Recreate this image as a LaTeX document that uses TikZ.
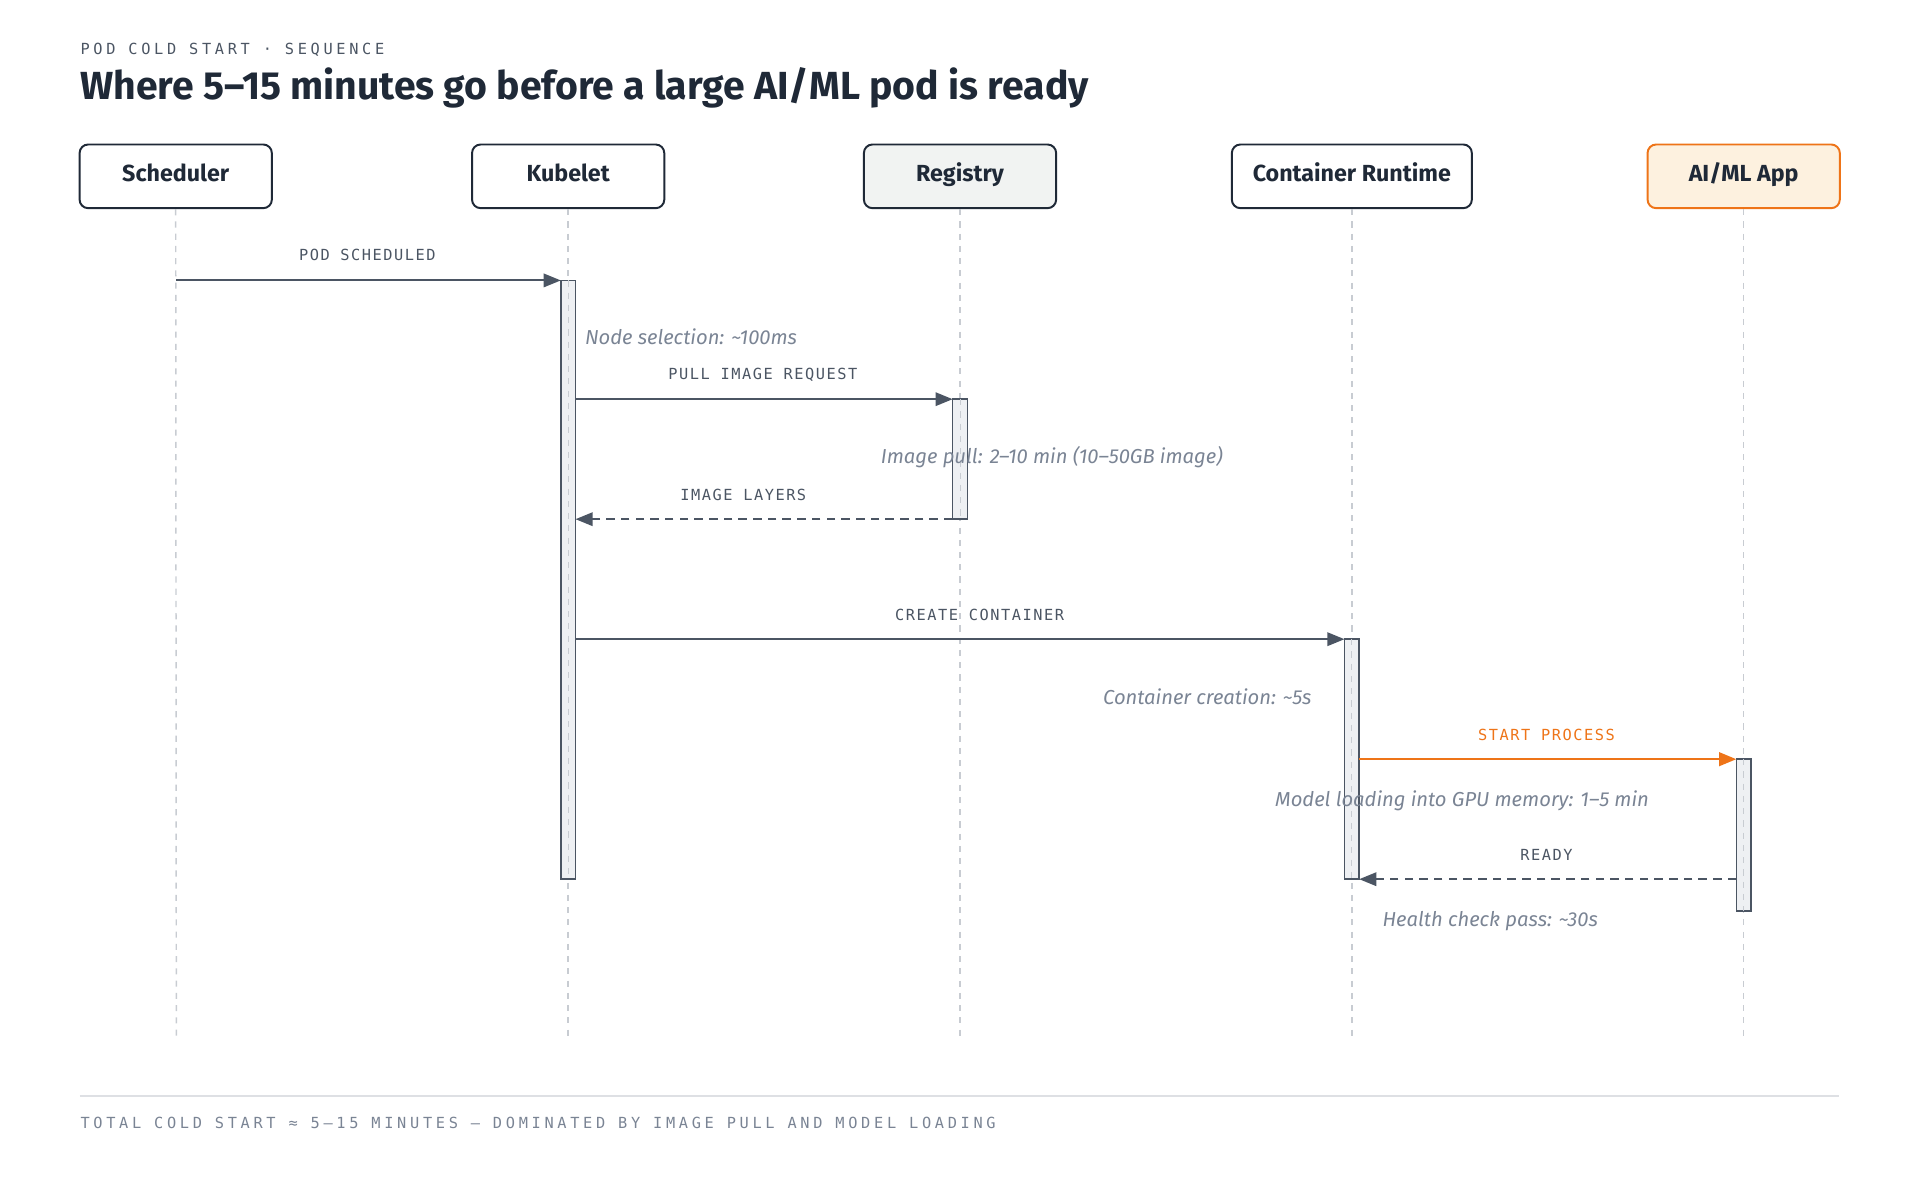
\documentclass[tikz,border=0pt]{standalone}
\usepackage{fontspec}
\setmainfont{Fira Sans}
\newfontfamily\lblmono[LetterSpace=24]{DejaVu Sans Mono}
\newfontfamily\msgmono[LetterSpace=10]{DejaVu Sans Mono}
\usetikzlibrary{arrows.meta}

\definecolor{inkdark}{HTML}{1F2937}
\definecolor{inkgray}{HTML}{4B5563}
\definecolor{notegray}{HTML}{7A8494}
\definecolor{lifegray}{HTML}{C8CCD2}
\definecolor{regfill}{HTML}{F1F3F2}
\definecolor{appfill}{HTML}{FDF1DF}
\definecolor{apporange}{HTML}{EE7418}
\definecolor{actfill}{HTML}{EEF0F3}

\tikzset{every picture/.style={line width=1.5pt}}
\tikzset{
  actor/.style={draw=inkdark, rounded corners=7, minimum height=52, line width=1.6pt,
    font=\bfseries\fontsize{19}{21}\selectfont, text=inkdark, fill=white,
    text height=11, text depth=2},
  life/.style={draw=lifegray, dash pattern=on 5 off 5, line width=1.2pt},
  act/.style={draw=inkgray, fill=actfill, line width=1.2pt},
  msg/.style={draw=inkgray, line width=1.6pt, -{Triangle[length=14,width=11]}},
  ret/.style={msg, dash pattern=on 7 off 5},
  msglbl/.style={font=\msgmono\fontsize{12.5}{14}\selectfont, text=inkgray},
  note/.style={font=\itshape\fontsize{16.5}{18}\selectfont, text=notegray},
}

\begin{document}
\begin{tikzpicture}[x=1pt,y=1pt,yscale=-1]
\useasboundingbox (0,0) rectangle (1568,980);

% Header
\node (hdr) [anchor=west, inner sep=0, font=\lblmono\fontsize{12.5}{14}\selectfont, text=inkgray] at (65,41) {POD COLD START · SEQUENCE};
\node (ttl) [anchor=west, inner sep=0, font=\bfseries\fontsize{32}{34}\selectfont, text=inkdark] at (65,72) {Where 5–15 minutes go before a large AI/ML pod is ready};

% Actors
\node (sch) [actor, minimum width=157] at (143.5,144) {Scheduler};
\node (kub) [actor, minimum width=157] at (464,144) {Kubelet};
\node (reg) [actor, minimum width=157, fill=regfill] at (784,144) {Registry};
\node (rtm) [actor, minimum width=196] at (1104,144) {Container Runtime};
\node (app) [actor, minimum width=157, fill=appfill, draw=apporange] at (1424,144) {AI/ML App};

% Lifelines
\foreach \a/\x in {sch/144,kub/464,reg/784,rtm/1104,app/1424}
  \draw [life] (\a.south) -- (\x,850);

% Activations
\draw [act] (458,229) rectangle (470,718);
\draw [act] (778,326) rectangle (790,424);
\draw [act] (1098,522) rectangle (1110,718);
\draw [act] (1418,620) rectangle (1430,744);
\foreach \x/\ya/\yb in {464/229/718,784/326/424,1104/522/718,1424/620/744}
  \draw [life, line width=0.8pt] (\x,\ya) -- (\x,\yb);

% Message end points
\coordinate (m1a) at (144,229);  \coordinate (m1b) at (458,229);
\coordinate (m2a) at (470,326);  \coordinate (m2b) at (778,326);
\coordinate (m3a) at (778,424);  \coordinate (m3b) at (470,424);
\coordinate (m4a) at (470,522);  \coordinate (m4b) at (1098,522);
\coordinate (m5a) at (1110,620); \coordinate (m5b) at (1418,620);
\coordinate (m6a) at (1418,718); \coordinate (m6b) at (1110,718);

% Messages
\draw [msg] (m1a) -- (m1b);
\draw [msg] (m2a) -- (m2b);
\draw [ret] (m3a) -- (m3b);
\draw [msg] (m4a) -- (m4b);
\draw [msg, draw=apporange, fill=apporange, line width=2pt] (m5a) -- (m5b);
\draw [ret] (m6a) -- (m6b);

\node (l1) [msglbl] at (300,208) {POD SCHEDULED};
\node (l2) [msglbl] at (623,306) {PULL IMAGE REQUEST};
\node (l3) [msglbl] at (607,404) {IMAGE LAYERS};
\node (l4) [msglbl] at (800,502) {CREATE CONTAINER};
\node (l5) [msglbl, text=apporange] at (1263,600) {START PROCESS};
\node (l6) [msglbl] at (1263,698) {READY};

% Notes
\node (n1) [note, anchor=west, inner sep=0] at (477,275) {Node selection: \textasciitilde100ms};
\node (n2) [note] at (859,373) {Image pull: 2–10 min (10–50GB image)};
\node (n3) [note] at (986,569) {Container creation: \textasciitilde5s};
\node (n4) [note] at (1194,654) {Model loading into GPU memory: 1–5 min};
\node (n5) [note] at (1217,752) {Health check pass: \textasciitilde30s};

% Footer
\draw [draw=lifegray!60, line width=1pt] (65,895) -- (1502,895);
\node (ftr) [anchor=west, inner sep=0, font=\lblmono\fontsize{12.5}{14}\selectfont, text=notegray] at (65,917) {TOTAL COLD START ≈ 5–15 MINUTES — DOMINATED BY IMAGE PULL AND MODEL LOADING};

\end{tikzpicture}
\end{document}
